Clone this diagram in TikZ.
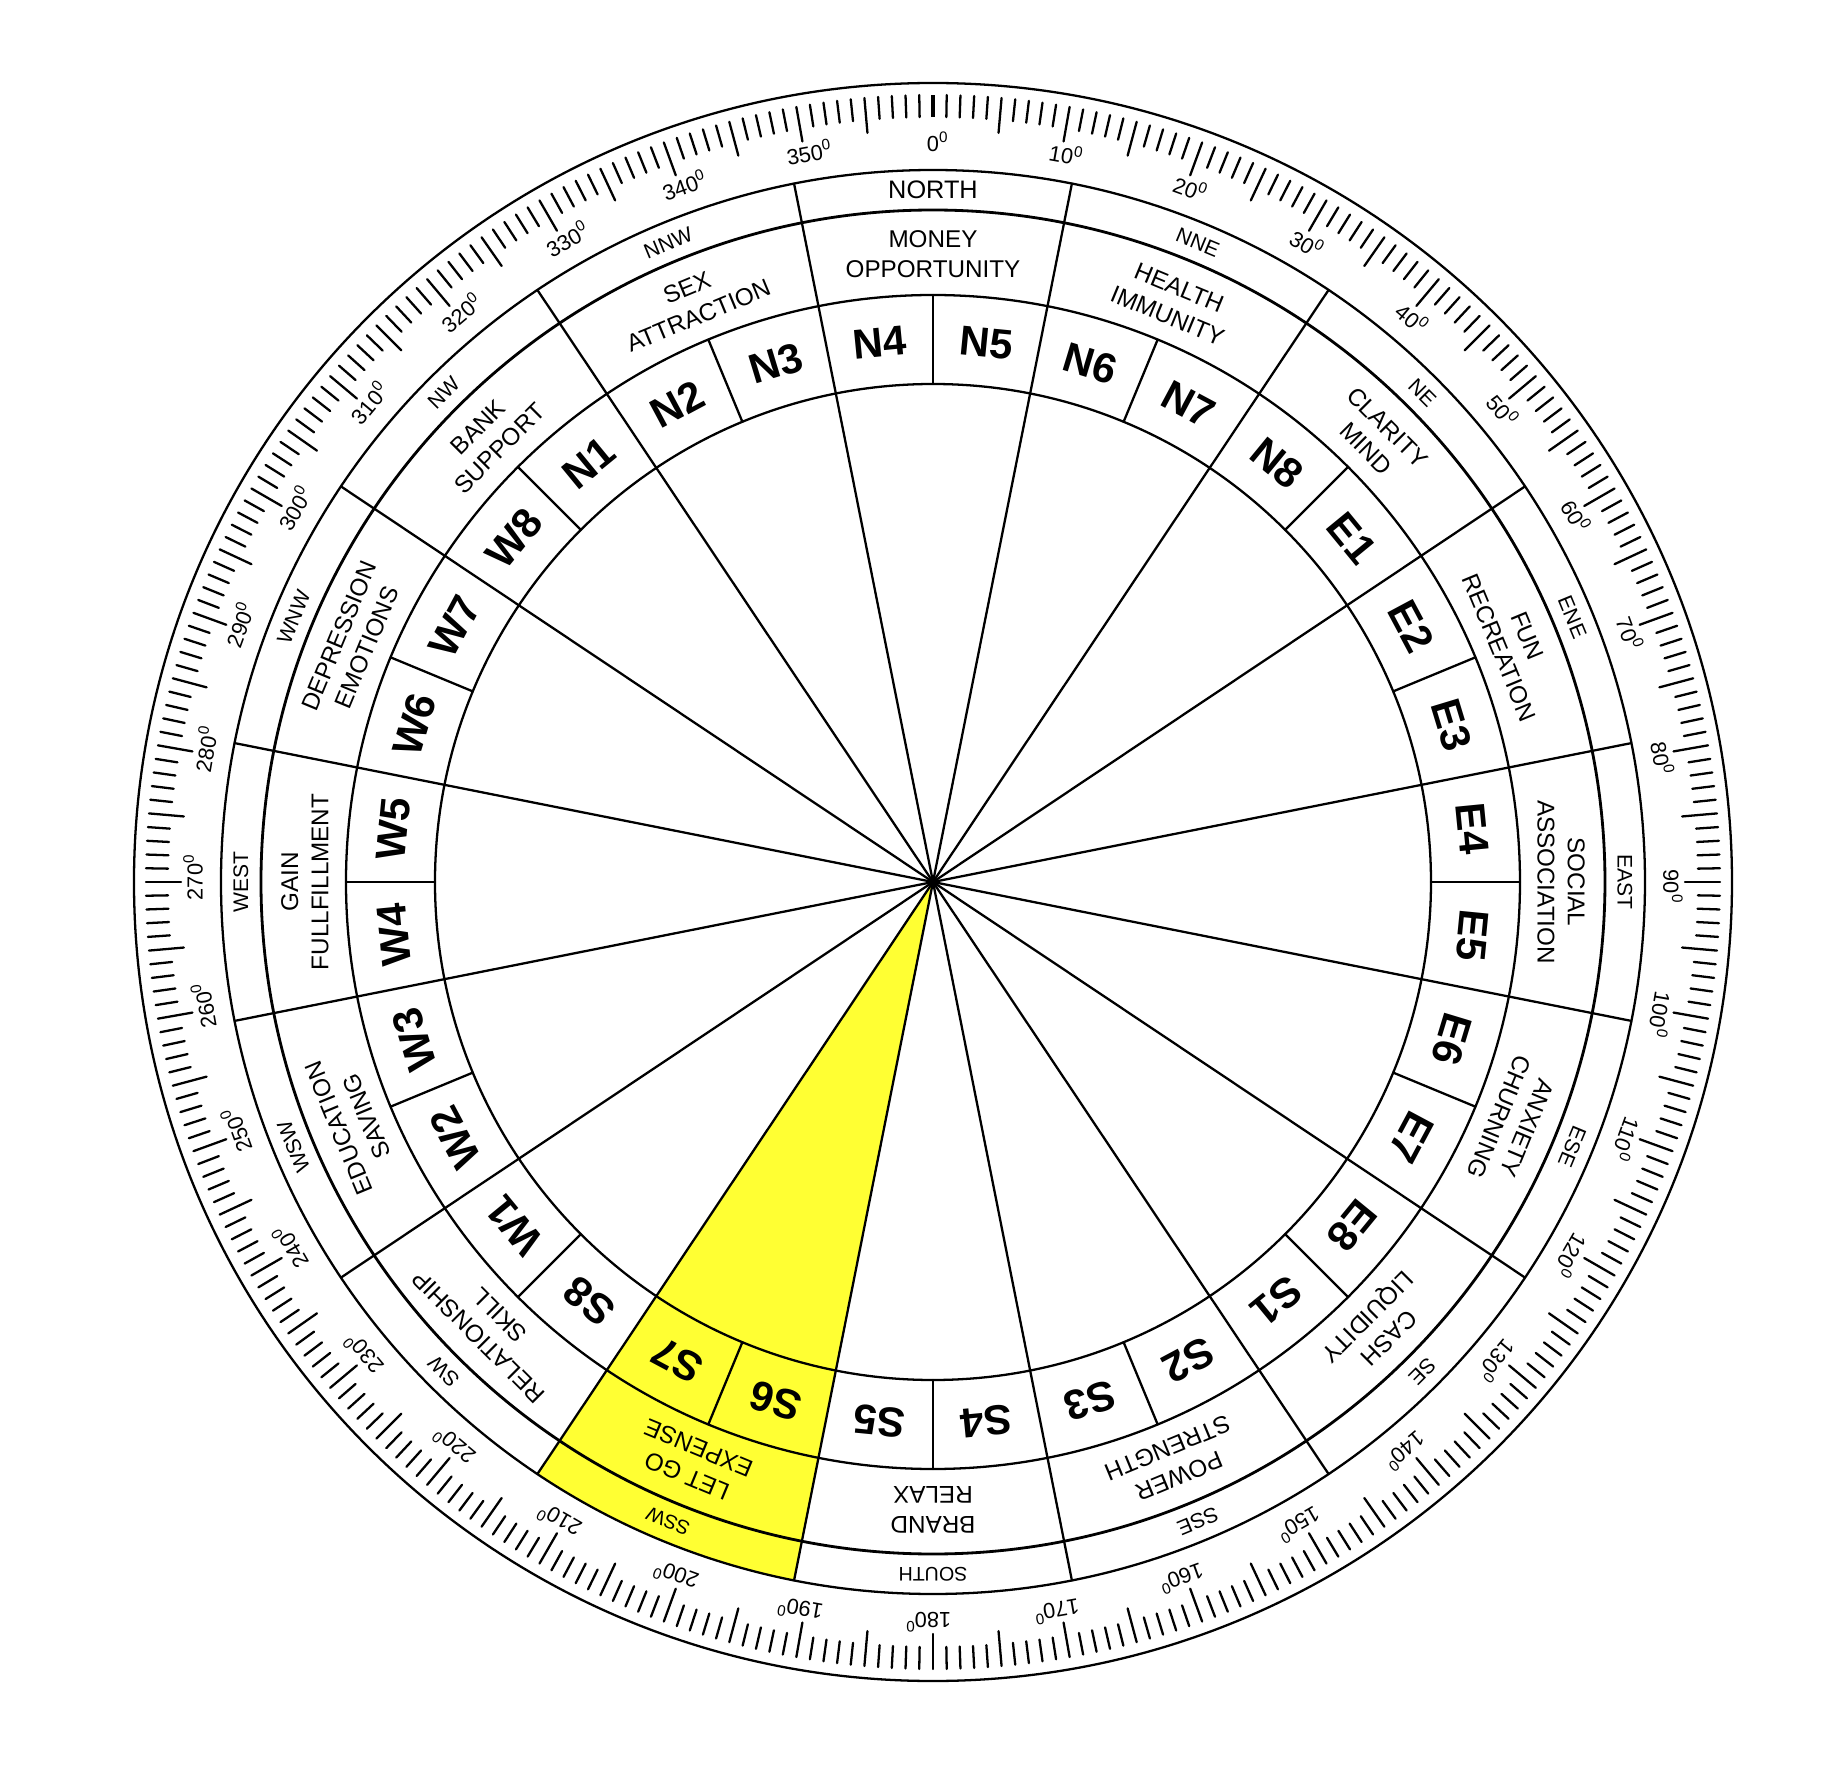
\documentclass[tikz,border=0pt]{standalone}
\usepackage{fontspec}
\setmainfont{Liberation Sans}
\definecolor{letgo}{RGB}{255,255,51}
\tikzset{
    dirtext/.style={font=\fontsize{6}{7}\selectfont, inner sep=0pt},
    zonetext/.style={font=\fontsize{6.9}{8.6}\selectfont, align=center, inner sep=0pt},
    celltext/.style={font=\fontsize{11.9}{14}\selectfont\bfseries, inner sep=0pt},
    degtext/.style={font=\fontsize{6.2}{7}\selectfont, inner sep=0pt}
}

\begin{document}
\begin{tikzpicture}[line join=round, line cap=round, line width=0.65pt]
    \useasboundingbox (-9.33,-8.87) rectangle (9.05,8.82);

    % Vùng vàng: S6, S7, LET GO / EXPENSE, SSW
    \fill[letgo] (0,0) -- (-101.25:7.12) arc[start angle=-101.25, end angle=-123.75, radius=7.12] -- cycle;

    % Các đường tròn
    \draw (0,0) circle (7.99);
    \draw (0,0) circle (7.12);
    \draw[line width=0.8pt] (0,0) circle (6.72);
    \draw (0,0) circle (5.87);
    \draw (0,0) circle (4.98);

    % 16 tia từ tâm
    \foreach \k in {0,...,15}
        \draw (0,0) -- ({78.75-22.5*\k}:7.12);
    % Vạch chia ô N1...W8
    \foreach \k in {0,...,15}
        \draw ({90-22.5*\k}:4.98) -- ({90-22.5*\k}:5.87);

    % Thước độ
    \foreach \d in {1,...,359}{
        \pgfmathtruncatemacro\tk{mod(\d,5)}
        \ifnum\tk=0
            \draw ({90-\d}:7.52) -- ({90-\d}:7.87);
        \else
            \draw ({90-\d}:7.65) -- ({90-\d}:7.87);
        \fi
    }
    \draw[line width=1.3pt, line cap=butt] (90:7.65) -- (90:7.87);
    \foreach \k [evaluate=\k as \dv using int(10*\k)] in {0,...,35}
        \node[degtext, rotate=-10*\k] (deg\k) at ({90-10*\k}:7.40) {\dv\rlap{\textsuperscript{0}}};

    % Vòng 16 hướng
    \foreach \lab/\fs [count=\i from 0] in {NORTH/7.2, NNE/6, NE/6, ENE/6, EAST/6, ESE/6, SE/6, SSE/6,
        SOUTH/5.6, SSW/5.6, SW/6, WSW/6, WEST/6, WNW/6, NW/6, NNW/6}
        \node[dirtext, font=\fontsize{\fs}{7}\selectfont, rotate=-22.5*\i] (dir\i) at ({90-22.5*\i}:6.92) {\lab};

    % Vòng 16 vùng
    \foreach \lab [count=\i from 0] in {{MONEY\\OPPORTUNITY}, {HEALTH\\IMMUNITY}, {CLARITY\\MIND},
        {FUN\\RECREATION}, {SOCIAL\\ASSOCIATION}, {ANXIETY\\CHURNING}, {CASH\\LIQUIDITY},
        {POWER\\STRENGTH}, {BRAND\\RELAX}, {LET GO\\EXPENSE}, {RELATIONSHIP\\SKILL},
        {EDUCATION\\SAVING}, {GAIN\\FULLFILLMENT}, {DEPRESSION\\EMOTIONS}, {BANK\\SUPPORT},
        {SEX\\ATTRACTION}}
        \node[zonetext, rotate=-22.5*\i] (zone\i) at ({90-22.5*\i}:6.28) {\lab};

    % 32 ô
    \foreach \sd [count=\q from 0] in {N,E,S,W}
        \foreach \n in {1,...,8}
            \node[celltext, rotate={-(320.625+90*\q+11.25*(\n-1))}] (\sd\n)
                at ({90-(320.625+90*\q+11.25*(\n-1))}:5.42) {\sd\n};
\end{tikzpicture}
\end{document}
